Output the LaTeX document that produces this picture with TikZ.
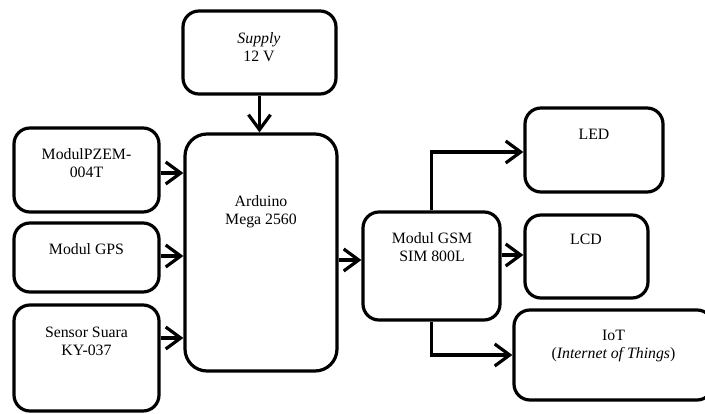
\documentclass[tikz,border=0pt]{standalone}
\usepackage{fontspec}
\setmainfont{Liberation Serif}
\usetikzlibrary{arrows.meta}
\begin{document}
\begin{tikzpicture}[x=1pt,y=-1pt,
  box/.style={draw=black,line width=3.2pt,rounded corners=16pt,inner sep=0pt},
  bigbox/.style={box,rounded corners=22pt},
  txt/.style={align=center,inner sep=0pt,font=\fontsize{15.8}{18}\selectfont},
  arr/.style={line width=3.2pt,-{Straight Barb[length=15pt,width=22pt]}}]
\fill[white] (0,0) rectangle (705,414);
\useasboundingbox (0,0) rectangle (705,414);
% boxes
\node[box,minimum width=153pt,minimum height=83pt] (sup) at (259.5,52.5) {};
\node[bigbox,minimum width=152pt,minimum height=237pt] (ard) at (261,252.5) {};
\node[box,minimum width=145pt,minimum height=84pt] (pzem) at (86.5,170) {};
\node[box,minimum width=145pt,minimum height=69pt] (gps) at (86.5,257.5) {};
\node[box,minimum width=145pt,minimum height=106pt] (sen) at (86.5,358) {};
\node[box,minimum width=137pt,minimum height=108pt] (gsm) at (431.5,266) {};
\node[box,minimum width=138pt,minimum height=84pt] (led) at (594,150) {};
\node[box,minimum width=123pt,minimum height=83pt] (lcd) at (586.5,256.5) {};
\node[box,minimum width=199pt,minimum height=90pt] (iot) at (613.5,355) {};
% texts
\node[txt] (tsup) at (259,46.7) {\textit{Supply}\\12 V};
\node[txt] (tard) at (261,211.4) {Arduino\\Mega 2560};
\node[txt] (tpzem) at (86.5,162.7) {ModulPZEM-\\004T};
\node[txt] (tgps) at (86.5,248.7) {Modul GPS};
\node[txt] (tsen) at (86.5,341.3) {Sensor Suara\\KY-037};
\node[txt] (tgsm) at (432,247.4) {Modul GSM\\SIM 800L};
\node[txt] (tled) at (594,134) {LED};
\node[txt] (tlcd) at (586,239) {LCD};
\node[txt] (tiot) at (613.5,346.4) {IoT\\(\textit{Internet of Things})};
% connectors
\draw[arr] (sup.south) -- (sup.south |- ard.north);
\draw[arr] (pzem.east |- 0,173) -- (ard.west |- 0,173);
\draw[arr] (gps.east |- 0,256) -- (ard.west |- 0,256);
\draw[arr] (sen.east |- 0,338) -- (ard.west |- 0,338);
\draw[arr] (ard.east |- 0,260) -- (gsm.west |- 0,260);
\draw[arr] (gsm.east |- 0,255) -- (lcd.west |- 0,255);
\draw[arr] (gsm.north) |- (led.west |- 0,152);
\draw[arr] (gsm.south) |- (iot.west |- 0,355);
\end{tikzpicture}
\end{document}
